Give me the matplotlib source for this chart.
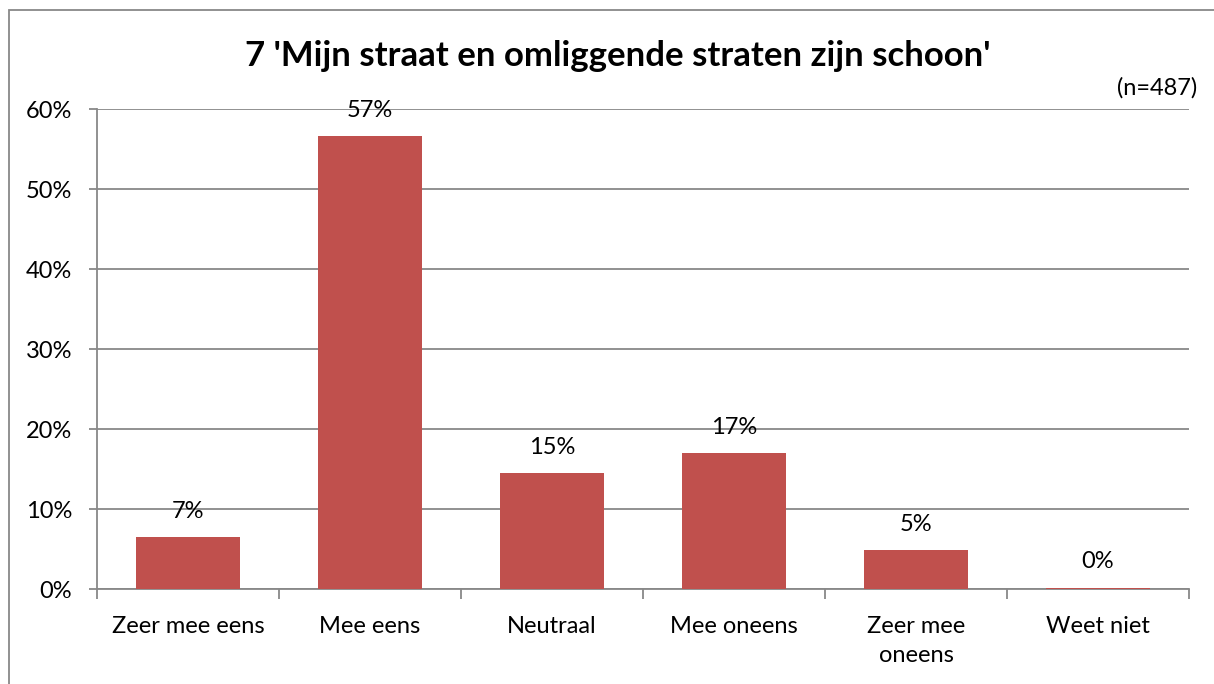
import matplotlib.pyplot as plt
import numpy as np
from matplotlib.patches import Rectangle

plt.rcParams["font.family"] = ["Lato", "DejaVu Sans"]

categories = ["Zeer mee eens", "Mee eens", "Neutraal", "Mee oneens",
              "Zeer mee\noneens", "Weet niet"]
values = [6.5, 56.6, 14.5, 17.0, 4.9, 0.2]
labels = ["7%", "57%", "15%", "17%", "5%", "0%"]
y_ticks = [0, 10, 20, 30, 40, 50, 60]

title = "7 'Mijn straat en omliggende straten zijn schoon'"
n_note = "(n=487)"

bar_color = "#C0504D"
grid_color = "#888888"
fs = 17

fig = plt.figure(figsize=(12.14, 6.84), dpi=100)
ax = fig.add_axes([0.0799, 0.1382, 0.8995, 0.7024])

x = np.arange(len(categories))
ax.bar(x, values, width=0.57, color=bar_color, zorder=3)

for xi, v, lab in zip(x, values, labels):
    ax.annotate(lab, (xi, v), xytext=(0, 14), textcoords="offset points",
                ha="center", va="baseline", fontsize=fs, color="black")

ax.set_xlim(-0.5, len(categories) - 0.5)
ax.set_ylim(0, 60)
ax.set_yticks(y_ticks)
ax.set_yticklabels([f"{t}%" for t in y_ticks])
ax.grid(axis="y", color=grid_color, linewidth=1.3, zorder=0)

ax.set_xticks(x)
ax.set_xticklabels(categories, linespacing=1.45)
ax.set_xticks(np.arange(-0.5, len(categories)), minor=True)
ax.tick_params(axis="x", which="major", length=0, pad=19, labelsize=fs)
ax.tick_params(axis="x", which="minor", length=7, width=1.3, color=grid_color)
ax.tick_params(axis="y", length=6, width=1.3, color=grid_color, pad=12,
               labelsize=fs)

for side in ["top", "right"]:
    ax.spines[side].set_visible(False)
for side in ["left", "bottom"]:
    ax.spines[side].set_color(grid_color)
    ax.spines[side].set_linewidth(1.3)

fig.text(0.509, 0.918, title, ha="center", va="center", fontsize=25,
         fontweight="bold")
fig.text(0.986, 0.872, n_note, ha="right", va="center", fontsize=fs)

# chart border: only top and left edges fall inside the image
fig.patches.append(Rectangle((0.0075, -0.05), 1.1, 1.036,
                             transform=fig.transFigure, fill=False,
                             edgecolor="#888888", linewidth=1.3))

fig.savefig("out.png", dpi=100)
